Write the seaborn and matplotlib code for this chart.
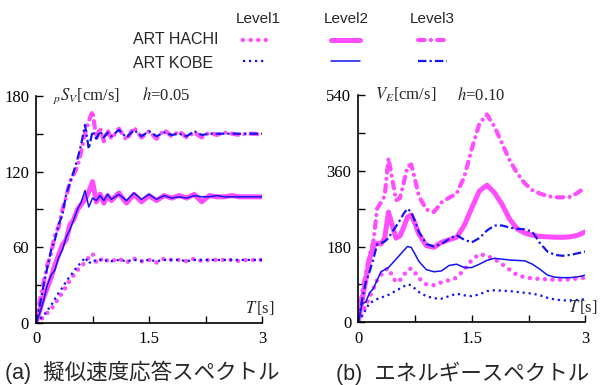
"""模擬地震波の速度応答スペクトルとエネルギースペクトルを並べて描く。"""

import matplotlib

matplotlib.use("Agg")
import matplotlib.pyplot as plt
import seaborn as sns
from matplotlib.lines import Line2D

# (a) 擬似速度応答スペクトル pSv, h=0.05
period_a = [0, 0.05, 0.1, 0.15, 0.2, 0.25, 0.3, 0.35, 0.4, 0.45, 0.5, 0.55, 0.6, 0.65,
            0.7, 0.75, 0.8, 0.85, 0.9, 0.95, 1.0, 1.1, 1.2, 1.3, 1.4, 1.5, 1.6, 1.7,
            1.8, 1.9, 2.0, 2.1, 2.2, 2.3, 2.4, 2.5, 2.6, 2.7, 2.8, 2.9, 3.0]
sv_hachi_1 = [0, 2, 5, 8, 11, 15, 20, 24, 29, 34, 38, 42, 45, 48,
              52, 55, 48, 51, 48, 50, 49, 51, 48, 51, 49, 50, 48, 51,
              50, 50, 49, 51, 49, 50, 50, 50, 50, 49, 50, 50, 50]
sv_hachi_2 = [0, 10, 20, 28, 36, 46, 54, 62, 66, 78, 82, 90, 94, 98,
              104, 112, 96, 102, 95, 101, 97, 103, 95, 102, 96, 101, 97, 101,
              99, 101, 99, 102, 96, 101, 100, 100, 101, 100, 100, 100, 100]
sv_hachi_3 = [0, 18, 32, 46, 55, 70, 76, 90, 100, 112, 118, 124, 136, 150,
              160, 168, 146, 155, 144, 153, 146, 154, 145, 155, 147, 152, 146, 153,
              148, 152, 147, 151, 147, 151, 149, 151, 150, 149, 150, 150, 149]
sv_kobe_1 = [0, 3, 6, 10, 14, 19, 24, 28, 33, 37, 41, 45, 48, 52,
             47, 50, 49, 50, 49, 50, 49, 50, 49, 50, 49, 50, 49, 50,
             50, 50, 49, 50, 50, 50, 50, 50, 50, 50, 50, 50, 50]
sv_kobe_2 = [0, 8, 18, 30, 38, 42, 52, 58, 68, 74, 82, 90, 96, 105,
             92, 99, 97, 101, 97, 102, 98, 102, 97, 103, 98, 102, 98, 101,
             99, 100, 99, 101, 100, 100, 101, 100, 100, 100, 100, 100, 100]
sv_kobe_3 = [0, 14, 30, 44, 58, 66, 78, 86, 102, 111, 120, 130, 142, 157,
             138, 152, 146, 152, 147, 151, 148, 153, 147, 153, 148, 152, 148, 151,
             149, 150, 148, 152, 149, 150, 150, 150, 150, 150, 150, 150, 150]

# (b) エネルギースペクトル VE, h=0.10
period_b = [0, 0.05, 0.1, 0.15, 0.2, 0.25, 0.3, 0.35, 0.4, 0.45, 0.5, 0.55, 0.6, 0.65,
            0.7, 0.75, 0.8, 0.9, 1.0, 1.1, 1.2, 1.3, 1.4, 1.5, 1.6, 1.7, 1.8, 1.9,
            2.0, 2.1, 2.2, 2.3, 2.4, 2.5, 2.6, 2.7, 2.8, 2.9, 3.0]
ve_hachi_1 = [0, 20, 40, 60, 80, 100, 112, 124, 128, 110, 95, 100, 112, 124,
              128, 118, 105, 90, 88, 95, 100, 106, 125, 148, 162, 158, 150, 138,
              125, 112, 107, 104, 103, 102, 101, 101, 102, 104, 106]
ve_hachi_2 = [0, 50, 100, 150, 180, 188, 186, 200, 262, 230, 200, 205, 225, 250,
              255, 235, 210, 182, 178, 190, 196, 202, 230, 272, 312, 326, 308, 280,
              245, 222, 212, 207, 204, 203, 202, 202, 203, 207, 215]
ve_hachi_3 = [0, 70, 115, 160, 190, 270, 285, 300, 390, 340, 290, 295, 330, 370,
              375, 340, 300, 268, 262, 285, 296, 306, 345, 412, 472, 494, 465, 425,
              385, 354, 330, 314, 306, 300, 297, 297, 298, 308, 322]
ve_kobe_1 = [0, 15, 30, 46, 50, 55, 58, 62, 65, 70, 75, 80, 85, 90,
             88, 80, 72, 62, 57, 56, 62, 68, 64, 62, 66, 74, 76, 75,
             74, 72, 70, 68, 64, 58, 54, 52, 52, 53, 55]
ve_kobe_2 = [0, 44, 48, 70, 80, 100, 120, 125, 130, 140, 150, 160, 170, 180,
             178, 162, 145, 125, 120, 122, 135, 138, 130, 130, 138, 147, 152, 150,
             148, 147, 146, 138, 126, 112, 107, 106, 106, 108, 112]
ve_kobe_3 = [0, 52, 95, 120, 150, 185, 188, 192, 200, 215, 228, 242, 258, 270,
             262, 240, 215, 186, 180, 186, 198, 207, 196, 190, 200, 218, 230, 230,
             225, 222, 221, 215, 188, 168, 160, 158, 160, 164, 168]

HACHI = "#ff4dff"
KOBE = "#1414f0"

# 凡例と本体で同じ線種を使う。
LINE_STYLES = {
    ("HACHI", 1): dict(color=HACHI, linewidth=3.2, linestyle=(0, (0.01, 1.7)),
                       dash_capstyle="round"),
    ("HACHI", 2): dict(color=HACHI, linewidth=3.6, linestyle="-", solid_capstyle="round"),
    ("HACHI", 3): dict(color=HACHI, linewidth=3.0, linestyle=(0, (1.6, 1.5, 0.01, 1.5)),
                       dash_capstyle="round"),
    ("KOBE", 1): dict(color=KOBE, linewidth=1.6, linestyle=(0, (1, 1.7))),
    ("KOBE", 2): dict(color=KOBE, linewidth=1.1, linestyle="-"),
    ("KOBE", 3): dict(color=KOBE, linewidth=1.6, linestyle=(0, (3.8, 1.4, 1, 1.4))),
}

SERIF = "Liberation Serif"


def draw_panel(ax, period, curves, ymax, major, minor, ylabel, damping, damping_x):
    """1枚分のスペクトルを描き、軸を論文風に整える。"""
    for (wave, level), values in curves.items():
        sns.lineplot(x=period, y=values, ax=ax, estimator=None, errorbar=None,
                     **LINE_STYLES[(wave, level)])

    ax.set(xlim=(0, 3), ylim=(0, ymax), xlabel="", ylabel="")
    ax.set_xticks([0, 1.5, 3])
    ax.set_xticks([0.75, 2.25], minor=True)
    ax.set_yticks(major)
    ax.set_yticks(minor, minor=True)
    ax.set_xticklabels(["0", "1.5", "3"])
    ax.tick_params(which="both", direction="in", length=5, width=1.0, color="black",
                   labelsize=12, labelcolor="black")
    ax.tick_params(axis="x", pad=6)
    ax.tick_params(axis="y", pad=5)
    for label in ax.get_xticklabels() + ax.get_yticklabels():
        label.set_family(SERIF)
    for side in ("top", "right"):
        ax.spines[side].set_visible(False)
    for side in ("left", "bottom"):
        ax.spines[side].set_color("black")
        ax.spines[side].set_linewidth(1.2)

    ax.text(0.075, 1.0, ylabel, transform=ax.transAxes, ha="left", va="center",
            family=SERIF, fontsize=12, clip_on=False)
    ax.text(damping_x, 1.0, damping, transform=ax.transAxes, ha="left", va="center",
            family=SERIF, fontsize=12, clip_on=False)
    ax.text(0.925, 0.068, r"$T\,$[s]", transform=ax.transAxes, ha="left", va="center",
            family=SERIF, fontsize=12, clip_on=False)


sns.set_theme(style="ticks")
plt.rcParams["font.family"] = ["Liberation Sans", "Noto Sans CJK JP"]
plt.rcParams["mathtext.fontset"] = "stix"

fig = plt.figure(figsize=(6.01, 3.85), dpi=100)
ax_sv = fig.add_axes([0.060, 0.161, 0.376, 0.590])
ax_ve = fig.add_axes([0.596, 0.163, 0.378, 0.590])

draw_panel(
    ax_sv, period_a,
    {("HACHI", 1): sv_hachi_1, ("HACHI", 2): sv_hachi_2, ("HACHI", 3): sv_hachi_3,
     ("KOBE", 1): sv_kobe_1, ("KOBE", 2): sv_kobe_2, ("KOBE", 3): sv_kobe_3},
    180, [0, 60, 120, 180], [30, 90, 150],
    r"${}_{p}S_{V}$[cm/s]", r"$h$=0.05", 0.47,
)
draw_panel(
    ax_ve, period_b,
    {("HACHI", 1): ve_hachi_1, ("HACHI", 2): ve_hachi_2, ("HACHI", 3): ve_hachi_3,
     ("KOBE", 1): ve_kobe_1, ("KOBE", 2): ve_kobe_2, ("KOBE", 3): ve_kobe_3},
    540, [0, 180, 360, 540], [90, 270, 450],
    r"$V_{E}$[cm/s]", r"$h$=0.10", 0.435,
)

# 上部の凡例（波形×レベルの表形式）
W, H = 601, 385
for level, center, (x0, x1) in [(1, 258, (243, 267)), (2, 346, (331, 360)),
                                (3, 432, (418, 447))]:
    fig.text(center / W, 1 - 19 / H, f"Level{level}", ha="center", va="center", fontsize=11)
    for wave, y in [("HACHI", 40), ("KOBE", 61)]:
        fig.add_artist(Line2D([x0 / W, x1 / W], [1 - y / H, 1 - y / H],
                              transform=fig.transFigure, **LINE_STYLES[(wave, level)]))
fig.text(133 / W, 1 - 40 / H, "ART HACHI", ha="left", va="center", fontsize=11.5)
fig.text(133 / W, 1 - 64 / H, "ART KOBE", ha="left", va="center", fontsize=11.5)

fig.text(5 / W, 1 - 372 / H, "(a)  擬似速度応答スペクトル", ha="left", va="center", fontsize=15.5)
fig.text(336 / W, 1 - 373 / H, "(b)  エネルギースペクトル", ha="left", va="center", fontsize=15.5)

fig.savefig("out.png", dpi=100)
